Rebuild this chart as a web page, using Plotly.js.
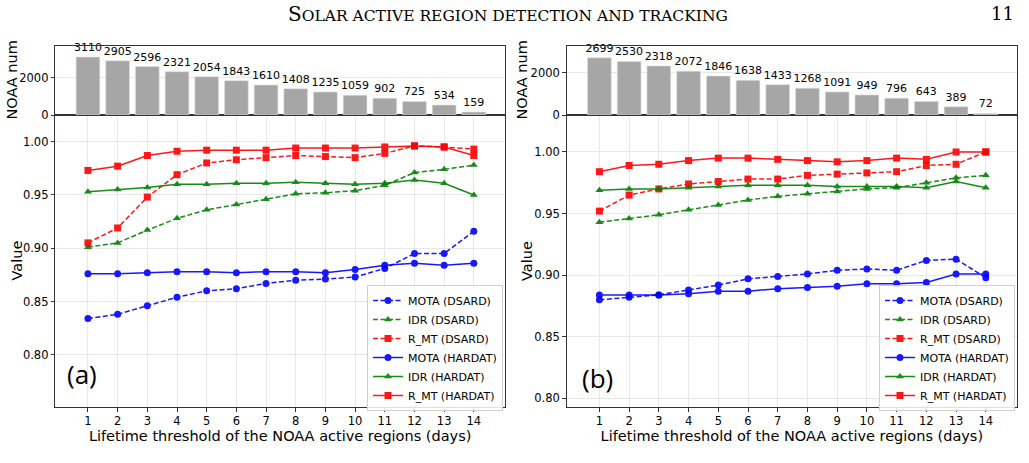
<!DOCTYPE html>
<html>
<head>
<meta charset="utf-8">
<script src="https://cdn.plot.ly/plotly-3.0.1.min.js"></script>
<style>
html,body{margin:0;padding:0;background:#fff;}
#chart{width:1029px;height:463px;}
</style>
</head>
<body>
<div id="chart"></div>
<script>
// ---------- data ----------
const days = [1,2,3,4,5,6,7,8,9,10,11,12,13,14];

// panel (a)
const noaaA = [3110,2905,2596,2321,2054,1843,1610,1408,1235,1059,902,725,534,159];
const motaDsardA = [0.834,0.838,0.846,0.854,0.860,0.862,0.867,0.870,0.871,0.873,0.881,0.895,0.895,0.916];
const idrDsardA  = [0.901,0.905,0.917,0.928,0.936,0.941,0.946,0.951,0.952,0.954,0.959,0.971,0.974,0.978];
const rmtDsardA  = [0.905,0.919,0.948,0.969,0.980,0.983,0.985,0.987,0.986,0.985,0.989,0.996,0.995,0.993];
const motaHardatA = [0.876,0.876,0.877,0.878,0.878,0.877,0.878,0.878,0.877,0.880,0.884,0.886,0.884,0.886];
const idrHardatA  = [0.953,0.955,0.957,0.960,0.960,0.961,0.961,0.962,0.961,0.960,0.961,0.964,0.961,0.950];
const rmtHardatA  = [0.973,0.977,0.987,0.991,0.992,0.992,0.992,0.994,0.994,0.994,0.995,0.996,0.995,0.987];

// panel (b)
const noaaB = [2699,2530,2318,2072,1846,1638,1433,1268,1091,949,796,643,389,72];
const motaDsardB = [0.880,0.882,0.884,0.888,0.892,0.897,0.899,0.901,0.904,0.905,0.904,0.912,0.913,0.898];
const idrDsardB  = [0.943,0.946,0.949,0.953,0.957,0.961,0.964,0.966,0.968,0.970,0.971,0.975,0.979,0.981];
const rmtDsardB  = [0.952,0.965,0.970,0.974,0.976,0.978,0.978,0.981,0.982,0.983,0.984,0.989,0.990,1.000];
const motaHardatB = [0.884,0.884,0.884,0.885,0.887,0.887,0.889,0.890,0.891,0.893,0.893,0.894,0.901,0.901];
const idrHardatB  = [0.969,0.970,0.970,0.971,0.972,0.973,0.973,0.973,0.972,0.972,0.972,0.971,0.976,0.971];
const rmtHardatB  = [0.984,0.989,0.990,0.993,0.995,0.995,0.994,0.993,0.992,0.993,0.995,0.994,1.000,1.000];

const seriesNames = ['MOTA (DSARD)','IDR (DSARD)','R_MT (DSARD)','MOTA (HARDAT)','IDR (HARDAT)','R_MT (HARDAT)'];
const seriesColors = ['#0000ff','#008000','#ff0000','#0000ff','#008000','#ff0000'];
const seriesSymbols = ['circle','triangle-up','square','circle','triangle-up','square'];
const seriesDash = ['5px,2.5px','5px,2.5px','5px,2.5px','solid','solid','solid'];

const xTitle = 'Lifetime threshold of the NOAA active regions (days)';
const yTitleMain = 'Value';
const yTitleBar = 'NOAA num';
const FONT = 'DejaVu Sans, sans-serif';

// ---------- traces ----------
function lineTraces(valsList, xa, ya, legend){
  return valsList.map((v,i)=>({
    type:'scatter', mode:'lines+markers', x:days, y:v,
    name:seriesNames[i], xaxis:xa, yaxis:ya, legend:legend,
    line:{color:seriesColors[i], width:1.5, dash:seriesDash[i]},
    marker:{color:seriesColors[i], symbol:seriesSymbols[i], size:7},
    opacity:0.9
  }));
}
function barTrace(vals, xa, ya){
  return {type:'bar', x:days, y:vals, xaxis:xa, yaxis:ya, width:0.8,
    marker:{color:'#a6a6a6', line:{color:'#e0e0e0', width:0.6}},
    text:vals.map(String), textposition:'outside', cliponaxis:false, constraintext:'none',
    textfont:{family:FONT, size:11, color:'#000'}, showlegend:false, hoverinfo:'skip'};
}

const data = [
  barTrace(noaaA,'x2','y2'),
  ...lineTraces([motaDsardA,idrDsardA,rmtDsardA,motaHardatA,idrHardatA,rmtHardatA],'x','y','legend'),
  barTrace(noaaB,'x4','y4'),
  ...lineTraces([motaDsardB,idrDsardB,rmtDsardB,motaHardatB,idrHardatB,rmtHardatB],'x3','y3','legend2')
];

// ---------- layout ----------
const W=1029, H=463;
const axCommon = {showline:true, mirror:true, linecolor:'#333', linewidth:1,
  gridcolor:'#e8e8e8', gridwidth:1, zeroline:false,
  tickfont:{family:FONT,size:11.5,color:'#000'}, ticks:'outside', ticklen:3.5, tickcolor:'#333'};
const xRange=[-0.1,15.05];
const mainDomY=[1-407/H, 1-115/H];
const barDomY=[1-115/H, 1-46/H];
const domL=[55.3/W, 505/W];
const domR=[566.7/W, 1017/W];
const titleFont = {family:FONT,size:14.5,color:'#000'};

function xMain(dom){
  return Object.assign({}, axCommon, {domain:dom, range:xRange, tickvals:days, ticktext:days.map(String),
    showgrid:true, title:{text:xTitle, font:titleFont, standoff:2}});
}
function xBar(dom, matchAx, anchor){
  return Object.assign({}, axCommon, {domain:dom, range:xRange, anchor:anchor, tickvals:days,
    showticklabels:false, ticks:'', showgrid:false});
}
function yMain(range, anchor){
  return Object.assign({}, axCommon, {domain:mainDomY, range:range, anchor:anchor,
    tickvals:[0.80,0.85,0.90,0.95,1.00], ticktext:['0.80','0.85','0.90','0.95','1.00']});
}
function yBar(range, anchor){
  return Object.assign({}, axCommon, {domain:barDomY, range:range, anchor:anchor,
    tickvals:[0,2000], ticktext:['0','2000']});
}
function yTitleAnn(text, xPx, dom){
  return {xref:'paper', yref:'paper', x:xPx/W, y:(dom[0]+dom[1])/2, showarrow:false,
    xanchor:'center', yanchor:'middle', textangle:-90, text:text, font:titleFont};
}

const legendCommon = {font:{family:FONT,size:11,color:'#000'}, bgcolor:'rgba(255,255,255,0.85)',
  bordercolor:'#d0d0d0', borderwidth:1, xanchor:'right', yanchor:'bottom', tracegroupgap:0, itemwidth:30};

const layout = {
  width:W, height:H, margin:{l:0,r:0,t:0,b:0}, paper_bgcolor:'#fff', plot_bgcolor:'#fff',
  showlegend:true, bargap:0,
  xaxis: Object.assign(xMain(domL), {anchor:'y'}),
  yaxis: yMain([0.751,1.025],'x'),
  xaxis2: xBar(domL,'x','y2'),
  yaxis2: yBar([0,3700],'x2'),
  xaxis3: Object.assign(xMain(domR), {anchor:'y3'}),
  yaxis3: yMain([0.793,1.030],'x3'),
  xaxis4: xBar(domR,'x3','y4'),
  yaxis4: yBar([0,3260],'x4'),
  legend: Object.assign({}, legendCommon, {x:503/W, y:1-411/H}),
  legend2: Object.assign({}, legendCommon, {x:1015/W, y:1-411/H}),
  annotations:[
    {xref:'paper', yref:'paper', x:508/W, y:1-14/H, showarrow:false, xanchor:'center', yanchor:'middle',
     text:'S<span style="font-size:15.5px">OLAR ACTIVE REGION DETECTION AND TRACKING</span>',
     font:{family:'DejaVu Serif, Liberation Serif, serif', size:20, color:'#000'}},
    {xref:'paper', yref:'paper', x:1016/W, y:1-14/H, showarrow:false, xanchor:'right', yanchor:'middle',
     text:'11', font:{family:'DejaVu Serif, Liberation Serif, serif', size:18, color:'#000'}},
    {xref:'paper', yref:'paper', x:82/W, y:1-374/H, showarrow:false, xanchor:'center', yanchor:'middle',
     text:'(a)', font:{family:'Open Sans, sans-serif', size:26, color:'#000'}},
    {xref:'paper', yref:'paper', x:597/W, y:1-378/H, showarrow:false, xanchor:'center', yanchor:'middle',
     text:'(b)', font:{family:'Open Sans, sans-serif', size:26, color:'#000'}},
    yTitleAnn(yTitleMain, 16.5, mainDomY),
    yTitleAnn(yTitleBar, 12, barDomY),
    yTitleAnn(yTitleMain, 527, mainDomY),
    yTitleAnn(yTitleBar, 522, barDomY)
  ]
};

Plotly.newPlot('chart', data, layout, {displayModeBar:false, staticPlot:true});
</script>
</body>
</html>
